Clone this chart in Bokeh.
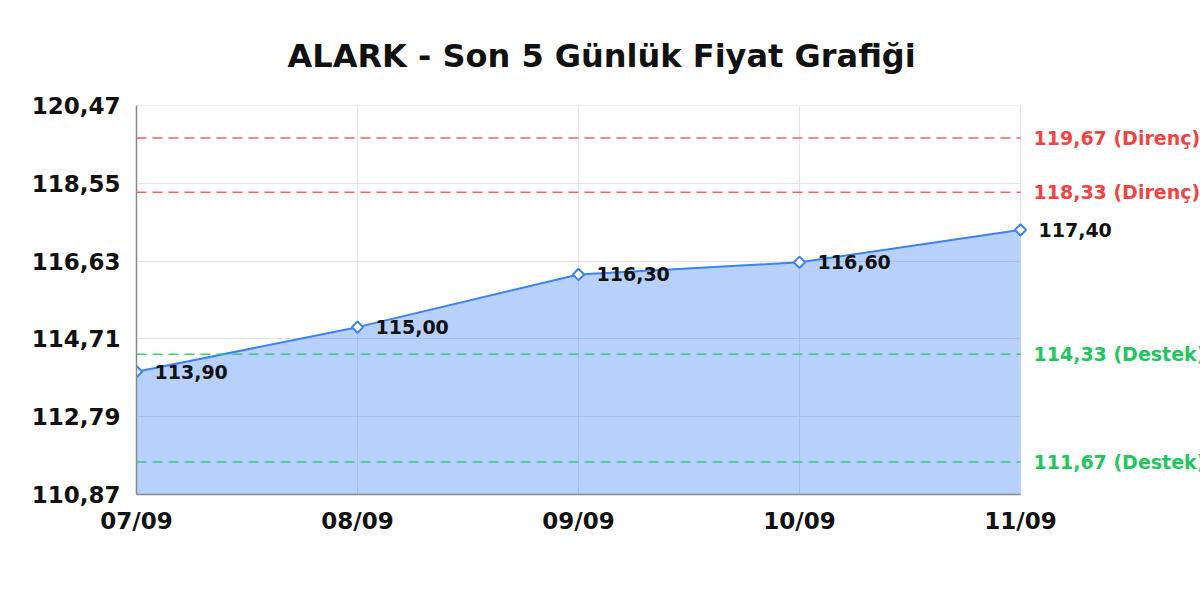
import math
from bokeh.plotting import figure
from bokeh.models import Range1d, ColumnDataSource, FixedTicker, CustomJSTickFormatter
from bokeh.core.properties import value
from bokeh.embed import file_html
from bokeh.resources import INLINE

title_text = "ALARK - Son 5 Günlük Fiyat Grafiği"
dates = ["07/09", "08/09", "09/09", "10/09", "11/09"]
prices = [113.90, 115.00, 116.30, 116.60, 117.40]
resistance_levels = [119.67, 118.33]
support_levels = [114.33, 111.67]
y_ticks = [110.87, 112.79, 114.71, 116.63, 118.55, 120.47]

FONT = "DejaVu Sans"
BLUE = "#3b82f6"
RED = "#ef4444"
GREEN = "#22c55e"
INK = "#111111"

# layout (pixels)
PLOT_W = 884      # width of the data area
SIDE_W = 180      # room on the right for the level labels
FRAME_H = 389


def fmt(v):
    return f"{v:.2f}".replace(".", ",")


xs = list(range(len(dates)))
px_per_unit = PLOT_W / (xs[-1] - xs[0])
x_end = xs[-1] + SIDE_W / px_per_unit

p = figure(
    frame_width=PLOT_W + SIDE_W, frame_height=FRAME_H,
    min_border_left=136, min_border_right=0,
    min_border_top=105, min_border_bottom=98,
    x_range=Range1d(xs[0], x_end),
    y_range=Range1d(y_ticks[0], y_ticks[-1] + 1e-6),
    output_backend="svg", toolbar_location=None,
)

p.title.text = title_text
p.title.text_font = FONT
p.title.text_font_size = "32px"
p.title.text_font_style = "bold"
p.title.text_color = INK
p.title.align = "left"
p.title.offset = 151
p.title.vertical_align = "top"
p.title.standoff = 58

# axes
p.xaxis.ticker = FixedTicker(ticks=xs)
p.xaxis.major_label_overrides = {i: d for i, d in zip(xs, dates)}
p.xaxis.bounds = (xs[0], xs[-1])
p.yaxis.ticker = FixedTicker(ticks=y_ticks)
p.yaxis.formatter = CustomJSTickFormatter(code="return tick.toFixed(2).replace('.', ',');")
for ax in (p.xaxis[0], p.yaxis[0]):
    ax.major_label_text_font = FONT
    ax.major_label_text_font_style = "bold"
    ax.major_label_text_font_size = "23px"
    ax.major_label_text_color = INK
    ax.axis_line_color = "#888888"
    ax.axis_line_width = 1.5
    ax.major_tick_in = 0
    ax.major_tick_out = 0
    ax.minor_tick_in = 0
    ax.minor_tick_out = 0
p.yaxis.major_label_standoff = 16
p.xaxis.major_label_standoff = 13

p.xgrid.ticker = FixedTicker(ticks=xs)
p.ygrid.ticker = FixedTicker(ticks=y_ticks)
p.ygrid.cross_bounds = (xs[0], xs[-1])
p.grid.grid_line_color = "#e3e3e3"
p.grid.grid_line_width = 1
p.outline_line_color = None

# area + line + markers
src = ColumnDataSource(dict(
    x=xs, y=prices, base=[y_ticks[0]] * len(xs), label=[fmt(v) for v in prices]
))
p.varea(x="x", y1="base", y2="y", source=src, fill_color=BLUE, fill_alpha=0.37)
p.line(x="x", y="y", source=src, line_color=BLUE, line_width=2)
p.scatter(x="x", y="y", source=src, marker="square", size=8, angle=math.pi / 4,
          fill_color="white", line_color=BLUE, line_width=2)
p.text(x="x", y="y", text="label", source=src, x_offset=18, y_offset=0,
       text_font=value(FONT), text_font_style="bold", text_font_size="19px",
       text_color=INK, text_baseline="middle")

# support / resistance lines and labels
level_vals = resistance_levels + support_levels
level_src = ColumnDataSource(dict(
    x0=[xs[0]] * len(level_vals), x1=[xs[-1]] * len(level_vals), y=level_vals,
    label=[f"{fmt(v)} (Direnç)" for v in resistance_levels]
          + [f"{fmt(v)} (Destek)" for v in support_levels],
    color=[RED] * len(resistance_levels) + [GREEN] * len(support_levels),
))
p.segment(x0="x0", y0="y", x1="x1", y1="y", source=level_src, line_color="color",
          line_dash="10 6", line_width=1.5, line_alpha=0.85)
p.text(x="x1", y="y", text="label", color="color", source=level_src, x_offset=13,
       text_font=value(FONT), text_font_style="bold", text_font_size="19px",
       text_baseline="middle")

open("out.html", "w").write(file_html(p, INLINE))
